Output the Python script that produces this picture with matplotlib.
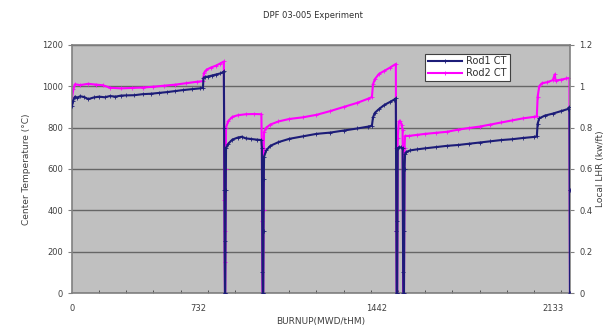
import matplotlib
matplotlib.use('Agg')
import matplotlib.pyplot as plt
from matplotlib.ticker import MultipleLocator

# x 轴为采样序号（Excel 类别轴），刻度标签为燃耗值
burnup_pos = [0, 464, 1123, 1770]
burnup_labels = ['0', '732', '1442', '2133']

rod1_x = [0, 4, 11, 20, 30, 45, 60, 80, 100, 120, 140, 160, 180, 200, 230, 260, 290,
          320, 350, 380, 410, 440, 470, 482,
          484, 490, 500, 515, 530, 545, 556, 559,
          560, 561, 562, 563, 564, 565, 566, 567,
          575, 590, 610, 625, 640, 660, 680, 697,
          699, 700, 701, 702, 704, 705, 706, 707,
          715, 730, 760, 800, 850, 900, 950, 1000, 1050, 1090, 1104,
          1108, 1115, 1130, 1150, 1170, 1185, 1192,
          1193, 1194, 1195, 1197, 1198, 1199, 1205, 1212, 1217,
          1218, 1219, 1220, 1222, 1223, 1224, 1226,
          1230, 1245, 1270, 1300, 1340, 1380, 1420, 1460, 1500, 1540, 1580, 1620,
          1660, 1700, 1711,
          1714, 1720, 1740, 1770, 1800, 1825, 1831, 1832, 1833]
rod1_ct = [904, 930, 950, 945, 952, 948, 938, 946, 950, 947, 953, 950, 955, 956, 957, 962,
           964, 968, 972, 977, 982, 986, 990, 992,
           1040, 1045, 1047, 1052, 1057, 1062, 1068, 1072,
           800, 500, 200, 0, 0, 250, 500, 700,
           722, 742, 752, 756, 748, 745, 742, 740,
           700, 400, 100, 0, 0, 300, 550, 660,
           690, 712, 730, 746, 758, 770, 776, 786, 796, 805, 810,
           850, 872, 890, 910, 924, 935, 942,
           600, 300, 0, 0, 350, 700, 706, 704, 700,
           400, 100, 0, 0, 300, 600, 672,
           682, 690, 695, 700, 706, 712, 716, 722, 728, 734, 740, 744,
           750, 755, 758,
           820, 845, 858, 868, 880, 890, 900, 500, 0]

rod2_x = [0, 5, 11, 30, 60, 90, 114, 140, 180, 220, 260, 300, 340, 380, 420, 460, 482,
          486, 495, 510, 530, 545, 559,
          560, 561, 562, 563, 564, 565, 566, 567,
          575, 590, 610, 640, 670, 697,
          699, 700, 701, 704, 705, 706, 707,
          715, 730, 760, 800, 850, 900, 950, 1000, 1050, 1090, 1104,
          1108, 1115, 1130, 1150, 1170, 1192,
          1193, 1194, 1195, 1197, 1198, 1199, 1203, 1208, 1213, 1217,
          1218, 1219, 1222, 1223, 1224, 1226,
          1240, 1270, 1300, 1340, 1380, 1420, 1460, 1500, 1540, 1580, 1620, 1660,
          1700, 1711,
          1714, 1720, 1730, 1750, 1770, 1777, 1780, 1800, 1820, 1831, 1832, 1833]
rod2_ct = [947, 985, 1010, 1006, 1012, 1008, 1005, 993, 990, 992, 994, 998, 1003, 1008,
           1015, 1022, 1025,
           1065, 1080, 1090, 1100, 1110, 1120,
           800, 450, 150, 0, 0, 300, 600, 800,
           832, 852, 860, 865, 866, 865,
           700, 350, 0, 0, 400, 700, 780,
           800, 815, 830, 842, 850, 862, 880, 900, 920, 940, 948,
           1010, 1035, 1060, 1075, 1090, 1108,
           700, 300, 0, 0, 400, 750, 830, 832, 815, 790,
           400, 0, 0, 400, 700, 760,
           760, 765, 770, 775, 780, 790, 798, 805, 815, 825, 835, 845,
           852, 855,
           950, 1000, 1015, 1020, 1030, 1058, 1028, 1032, 1038, 1040, 500, 0]

fig = plt.figure(figsize=(6.07, 3.33), dpi=100)
ax = fig.add_axes([0.1186, 0.12, 0.8204, 0.745])
ax.set_facecolor('#c0c0c0')

ax.plot(rod1_x, rod1_ct, color='#1c1c78', lw=1.5, marker='+', ms=2.5, mew=0.6, label='Rod1 CT', zorder=3)
ax.plot(rod2_x, rod2_ct, color='#ff00ff', lw=1.5, marker='+', ms=2.5, mew=0.6, label='Rod2 CT', zorder=2)

ax.set_xlim(0, 1833)
ax.set_ylim(0, 1200)
ax.yaxis.set_major_locator(MultipleLocator(200))
ax.grid(axis='y', color='#666666', lw=1.0)
ax.set_axisbelow(True)

ax.set_xticks(burnup_pos)
ax.set_xticklabels(burnup_labels)
ax.xaxis.set_minor_locator(MultipleLocator(100))
ax.tick_params(axis='x', which='major', length=0, pad=8)
ax.tick_params(axis='x', which='minor', length=2, direction='in', color='#404040')
ax.tick_params(axis='y', length=3, color='#808080')
ax.tick_params(labelsize=6, labelcolor='#404040')

for s in ax.spines.values():
    s.set_color('#808080')
    s.set_linewidth(1.2)

ax.set_xlabel('BURNUP(MWD/tHM)', fontsize=6.5, color='#404040', labelpad=3)
ax.set_ylabel('Center Temperature (°C)', fontsize=6.5, color='#404040', labelpad=8)

ax2 = ax.twinx()
ax2.set_ylim(0, 1.2)
ax2.set_yticks([0, 0.2, 0.4, 0.6, 0.8, 1.0, 1.2])
ax2.set_yticklabels(['0', '0.2', '0.4', '0.6', '0.8', '1', '1.2'])
ax2.tick_params(labelsize=6, labelcolor='#404040', length=3, color='#808080')
ax2.set_ylabel('Local LHR (kw/ft)', fontsize=6.5, color='#404040', labelpad=3)
for s in ax2.spines.values():
    s.set_visible(False)

leg = ax.legend(loc='upper left', bbox_to_anchor=(0.7, 0.985), fontsize=7, frameon=True,
                fancybox=False, edgecolor='#404040', framealpha=1, handlelength=3.5,
                borderpad=0.3, labelspacing=0.2, handletextpad=0.4)
leg.get_frame().set_linewidth(0.8)
for t in leg.get_texts():
    t.set_color('#303030')

fig.text(0.515, 0.945, 'DPF 03-005 Experiment', fontsize=6, color='#303030', ha='center')

fig.savefig('out.png', dpi=100)
